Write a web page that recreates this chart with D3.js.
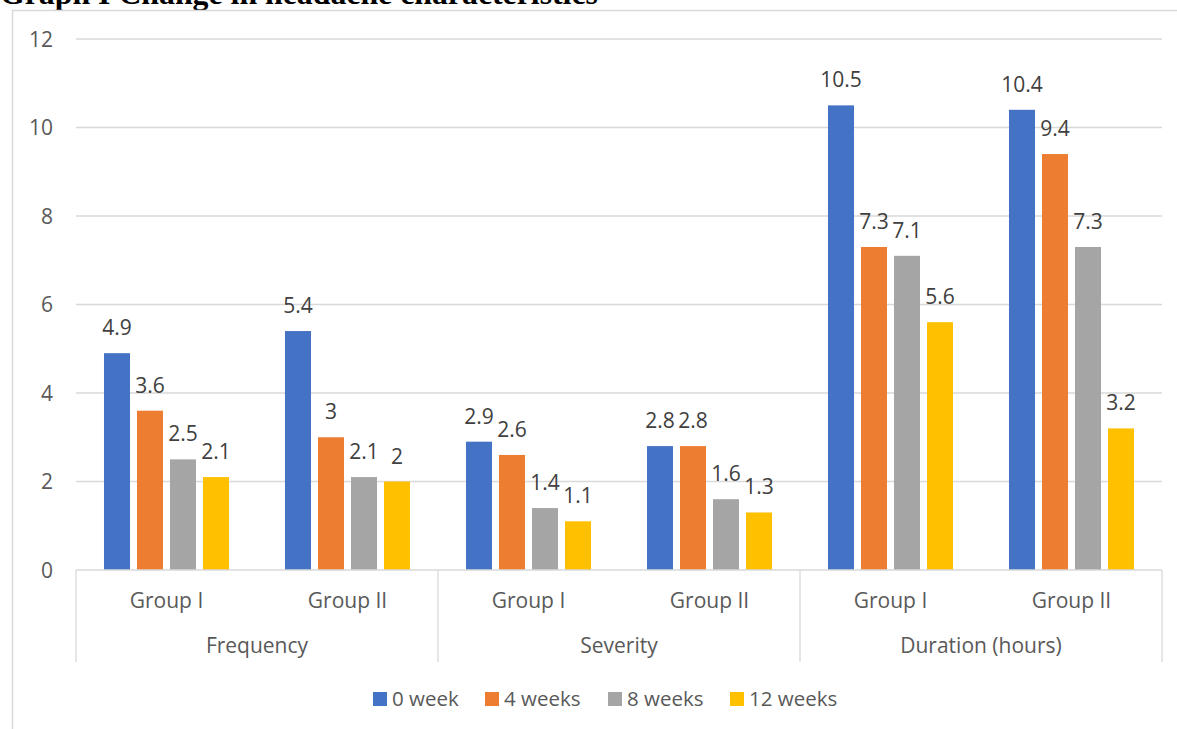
<!DOCTYPE html>
<html>
<head>
<meta charset="utf-8">
<script src="https://cdn.jsdelivr.net/npm/d3@7"></script>
<style>
  body { margin: 0; background: #fff; }
  svg { display: block; }
  text { font-family: "Open Sans", sans-serif; }
</style>
</head>
<body>
<div id="chart"></div>
<script>
// data
const categories = ['Frequency', 'Severity', 'Duration (hours)'];
const groups = ['Group I', 'Group II'];
const seriesNames = ['0 week', '4 weeks', '8 weeks', '12 weeks'];
const week0 = [4.9, 5.4, 2.9, 2.8, 10.5, 10.4];
const week4 = [3.6, 3, 2.6, 2.8, 7.3, 9.4];
const week8 = [2.5, 2.1, 1.4, 1.6, 7.1, 7.3];
const week12 = [2.1, 2, 1.1, 1.3, 5.6, 3.2];
const yTicks = [0, 2, 4, 6, 8, 10, 12];
const colors = ['#4472C4', '#ED7D31', '#A5A5A5', '#FFC000'];

const series = [week0, week4, week8, week12];
const width = 1177, height = 729;
const plot = { left: 76, right: 1162, top: 39, bottom: 570 };

const svg = d3.select('#chart').append('svg')
    .attr('width', width)
    .attr('height', height);

// title (cut off at the top, as in the source page)
const title = svg.append('text')
    .attr('x', 0)
    .attr('y', 4)
    .style('font-family', '"Liberation Serif", "Times New Roman", serif')
    .style('font-weight', 'bold')
    .style('font-size', '26px')
    .attr('fill', '#000')
    .text('Graph I Change in headache characteristics');
const tw = title.node().getComputedTextLength();
title.style('font-size', (26 * 598 / tw) + 'px');

// chart frame
svg.append('rect')
    .attr('x', 12.5)
    .attr('y', 10.5)
    .attr('width', 1300)
    .attr('height', 900)
    .attr('fill', 'none')
    .attr('stroke', '#d9d9d9')
    .attr('stroke-width', 1.5);

// slots: one per (category, group)
const slots = [];
categories.forEach(c => groups.forEach(g => slots.push(c + '|' + g)));

const x0 = d3.scaleBand()
    .domain(slots)
    .range([plot.left, plot.right])
    .padding(0);

const xCat = d3.scaleBand()
    .domain(categories)
    .range([plot.left, plot.right]);

const x1 = d3.scaleBand()
    .domain(d3.range(seriesNames.length))
    .range([0, x0.bandwidth()])
    .paddingInner(7 / 33)
    .paddingOuter(0.848);

const y = d3.scaleLinear()
    .domain([0, 12])
    .range([plot.bottom, plot.top]);

// gridlines
svg.append('g')
    .selectAll('line')
    .data(yTicks.filter(d => d > 0))
    .enter()
    .append('line')
    .attr('x1', plot.left)
    .attr('x2', plot.right)
    .attr('y1', d => y(d))
    .attr('y2', d => y(d))
    .attr('stroke', '#d9d9d9')
    .attr('stroke-width', 1.3);

// y tick labels
svg.append('g')
    .selectAll('text')
    .data(yTicks)
    .enter()
    .append('text')
    .attr('x', 53)
    .attr('y', d => y(d) + 7.5)
    .attr('text-anchor', 'end')
    .attr('fill', '#595959')
    .style('font-size', '21px')
    .text(d => d);

// bars
const slotG = svg.append('g')
    .selectAll('g')
    .data(slots)
    .enter()
    .append('g')
    .attr('transform', d => `translate(${x0(d)},0)`);

slotG.each(function (slot, si) {
    const g = d3.select(this);
    const vals = series.map(s => s[si]);
    g.selectAll('rect')
        .data(vals)
        .enter()
        .append('rect')
        .attr('x', (d, i) => x1(i))
        .attr('y', d => y(d))
        .attr('width', x1.bandwidth())
        .attr('height', d => y(0) - y(d))
        .attr('fill', (d, i) => colors[i]);
    g.selectAll('text')
        .data(vals)
        .enter()
        .append('text')
        .attr('x', (d, i) => x1(i) + x1.bandwidth() / 2)
        .attr('y', d => y(d) - 18)
        .attr('text-anchor', 'middle')
        .attr('fill', '#404040')
        .style('font-size', '21px')
        .text(d => String(d));
});

// category axis
const axisG = svg.append('g');
axisG.append('line')
    .attr('x1', plot.left)
    .attr('x2', plot.right)
    .attr('y1', plot.bottom)
    .attr('y2', plot.bottom)
    .attr('stroke', '#d9d9d9')
    .attr('stroke-width', 1.3);

const seps = categories.map(c => xCat(c)).concat([plot.right]);
axisG.selectAll('line.sep')
    .data(seps)
    .enter()
    .append('line')
    .attr('class', 'sep')
    .attr('x1', d => d)
    .attr('x2', d => d)
    .attr('y1', plot.bottom)
    .attr('y2', 662)
    .attr('stroke', '#d9d9d9')
    .attr('stroke-width', 1.3);

axisG.selectAll('text.grp')
    .data(slots)
    .enter()
    .append('text')
    .attr('class', 'grp')
    .attr('x', d => x0(d) + x0.bandwidth() / 2)
    .attr('y', 608)
    .attr('text-anchor', 'middle')
    .attr('fill', '#595959')
    .style('font-size', '21px')
    .text(d => d.split('|')[1]);

axisG.selectAll('text.cat')
    .data(categories)
    .enter()
    .append('text')
    .attr('class', 'cat')
    .attr('x', d => xCat(d) + xCat.bandwidth() / 2)
    .attr('y', 653)
    .attr('text-anchor', 'middle')
    .attr('fill', '#595959')
    .style('font-size', '21px')
    .text(d => d);

// legend
const legendX = [373, 485, 608, 730];
const legend = svg.append('g')
    .selectAll('g')
    .data(seriesNames)
    .enter()
    .append('g')
    .attr('transform', (d, i) => `translate(${legendX[i]},692)`);
legend.append('rect')
    .attr('width', 14)
    .attr('height', 14)
    .attr('fill', (d, i) => colors[i]);
legend.append('text')
    .attr('x', 19)
    .attr('y', 14)
    .attr('fill', '#595959')
    .style('font-size', '20.5px')
    .text(d => d);
</script>
</body>
</html>
